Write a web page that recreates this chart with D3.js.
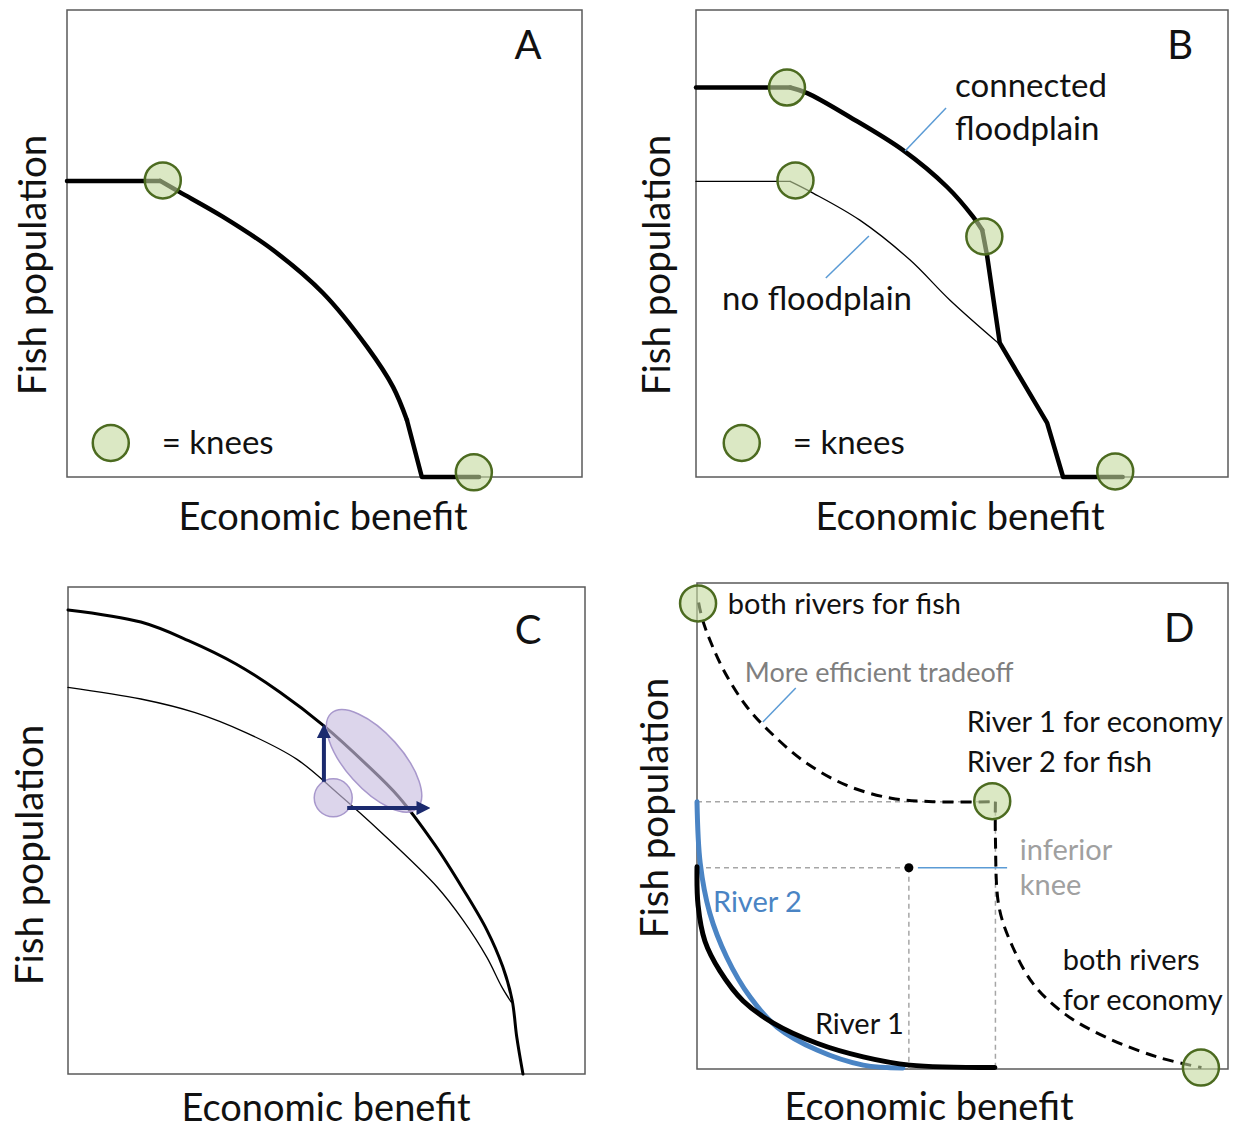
<!DOCTYPE html>
<meta charset="utf-8">
<script src="https://d3js.org/d3.v7.min.js"></script>
<style>
  body { margin: 0; background: #fff; }
  text { font-family: Lato, "Open Sans", sans-serif; fill: #111; }
</style>
<div id="chart"></div>
<script>
// all values on a 0-100 scale: x = economic benefit, y = fish population

// panel A
var frontierA = [[0,63.4],[18.1,63.4],[21.9,61],[30.3,55.7],[40,48.6],[49.7,39.4],[58.3,27.8],[63.3,19.3],[66,12.2],[68.9,0],[80,0]];
var kneesA = [[18.6,63.5],[79,1]];

// panel B
var connectedB = [[0,83.4],[17.7,83.4],[20.9,82.2],[28.9,77.1],[38.9,70],[47.2,62.1],[52.1,55.7],[53.8,52.9],[54.7,47.5],[57.1,28.7],[66,11.6],[69,0],[80.2,0]];
var noFloodB = [[0,63.3],[17.7,63.3],[22,60.8],[30.8,55],[40.2,46.5],[47.7,37.9],[57.1,28.4]];
var kneesB = [[17.1,83.4],[18.7,63.5],[54.2,51.5],[78.8,1.2]];

// panel C
var upperC = [[0,95.3],[14.1,92.8],[23.3,89],[32.5,84.2],[41,78.4],[49.5,71.5],[57.4,63.9],[63.9,57],[71,47],[76.4,38],[81,29.6],[84.1,22],[85.9,15.2],[86.8,7.6],[88,0]];
var lowerC = [[0,79.4],[14.1,77],[24.6,74.2],[34.4,70.1],[44.3,64.6],[52.1,57.7],[60.7,49.5],[71.4,38.4],[76.4,31.6],[81,24],[83.9,17.9],[85.7,14.8]];
var shiftStart = [51.3,56.7], shiftTarget = [59.2,64.3];
var arrowsC = [[[49.5,60],[49.5,71]], [[54,54.6],[69.3,54.6]]];

// panel D
var river1 = [[0,41.6],[0.2,33.7],[1.5,26.3],[4.3,20.2],[8.7,14],[14.3,9.5],[22.6,5.3],[31.3,2.5],[40.1,0.8],[56.1,0.3]];
var river2 = [[0,55],[0.6,42.4],[2.4,32.1],[5.6,23],[10,14.8],[15.1,8.6],[22.6,3.9],[31.3,0.8],[38.8,0.2]];
var combinedUpper = [[0.3,96],[1,92.6],[2.6,87.8],[5.2,81.7],[9.2,74.8],[13.7,69.4],[20.3,63.2],[28.1,58.4],[36.6,55.7],[44.4,55],[56.2,55]];
var combinedLower = [[56.2,55],[56.2,47.5],[56.9,33.2],[59.5,25],[63.4,17.4],[69.3,11.3],[77.1,6.5],[86.9,2.4],[95,0.3]];
var kneesD = [[0.2,95.8],[55.6,55.1],[94.9,0.3]];
var inferiorKnee = [39.9,41.4];
var cornerKnee = [56.2,55];

var W = 1233, H = 1129;
var svg = d3.select("#chart").append("svg").attr("width", W).attr("height", H);

var defs = svg.append("defs");
defs.append("marker")
    .attr("id", "arrow")
    .attr("viewBox", "0 0 10 10")
    .attr("refX", 7).attr("refY", 5)
    .attr("markerUnits", "userSpaceOnUse")
    .attr("markerWidth", 14).attr("markerHeight", 14)
    .attr("orient", "auto")
  .append("path")
    .attr("d", "M0,0 L10,5 L0,10 z")
    .attr("fill", "#1b2a6e");

function makePanel(box, letter, letterPos, xLab, yLab) {
    var x = d3.scaleLinear().domain([0, 100]).range([box.left, box.right]);
    var y = d3.scaleLinear().domain([0, 100]).range([box.bottom, box.top]);
    var g = svg.append("g");
    g.append("rect")
        .attr("x", box.left).attr("y", box.top)
        .attr("width", box.right - box.left).attr("height", box.bottom - box.top)
        .attr("fill", "none").attr("stroke", "#5a5a5a").attr("stroke-width", 1.5);
    g.append("text")
        .attr("x", x(letterPos[0])).attr("y", y(letterPos[1]))
        .attr("dy", "0.35em").attr("text-anchor", "middle")
        .style("font-size", "40px").text(letter);
    g.append("text")
        .attr("x", xLab[0]).attr("y", xLab[1])
        .attr("dy", "0.35em").attr("text-anchor", "middle")
        .style("font-size", "38px").text("Economic benefit");
    g.append("text")
        .attr("transform", "translate(" + yLab[0] + "," + yLab[1] + ") rotate(-90)")
        .attr("dy", "0.35em").attr("text-anchor", "middle")
        .style("font-size", "38.5px").text("Fish population");
    var layer = g.append("g");
    return { g: layer, x: x, y: y };
}

function drawLine(p, data, width, color, curve, dash) {
    var line = d3.line()
        .x(function (d) { return p.x(d[0]); })
        .y(function (d) { return p.y(d[1]); })
        .curve(curve || d3.curveLinear);
    p.g.append("path")
        .datum(data)
        .attr("d", line)
        .attr("fill", "none")
        .attr("stroke", color)
        .attr("stroke-width", width)
        .attr("stroke-linejoin", "round")
        .attr("stroke-linecap", dash ? "butt" : "round")
        .attr("stroke-dasharray", dash || null);
}

// straight pieces outside [i0, i1], smooth arc between them
function drawFrontier(p, data, i0, i1, width) {
    drawLine(p, data.slice(0, i0 + 1), width, "#000");
    drawLine(p, data.slice(i0, i1 + 1), width, "#000", d3.curveCatmullRom.alpha(0.5));
    if (i1 < data.length - 1) drawLine(p, data.slice(i1), width, "#000");
}

function drawKnees(p, data) {
    p.g.selectAll(null)
        .data(data)
        .enter()
        .append("circle")
        .attr("cx", function (d) { return p.x(d[0]); })
        .attr("cy", function (d) { return p.y(d[1]); })
        .attr("r", 18)
        .attr("fill", "#c3d99c")
        .attr("fill-opacity", 0.6)
        .attr("stroke", "#4c6b20")
        .attr("stroke-width", 2.5);
}

function label(p, pos, txt, size, color) {
    p.g.append("text")
        .attr("x", p.x(pos[0])).attr("y", p.y(pos[1]))
        .attr("dy", "0.35em")
        .style("font-size", size + "px")
        .style("fill", color || "#111")
        .text(txt);
}

function leader(p, a, b, color) {
    p.g.append("line")
        .attr("x1", p.x(a[0])).attr("y1", p.y(a[1]))
        .attr("x2", p.x(b[0])).attr("y2", p.y(b[1]))
        .attr("stroke", color || "#5b9bd5").attr("stroke-width", 1.5);
}

// ---------- A ----------
var pA = makePanel({ left: 67, top: 10, right: 582, bottom: 477 }, "A", [89.5, 92.5], [323, 517], [33, 265]);
drawFrontier(pA, frontierA, 1, 8, 4.5);
drawKnees(pA, kneesA);
drawKnees(pA, [[8.5, 7.3]]);
label(pA, [18.4, 7.3], "= knees", 33);

// ---------- B ----------
var pB = makePanel({ left: 696, top: 10, right: 1228, bottom: 477 }, "B", [91, 92.5], [960, 517], [657, 265]);
drawFrontier(pB, noFloodB, 1, noFloodB.length - 1, 1.3);
drawFrontier(pB, connectedB, 1, 7, 4.5);
drawKnees(pB, kneesB);
drawKnees(pB, [[8.6, 7.3]]);
label(pB, [18.2, 7.3], "= knees", 33);
label(pB, [48.7, 83.9], "connected", 33);
label(pB, [48.7, 74.7], "floodplain", 33);
leader(pB, [47, 79], [39.3, 69.8]);
label(pB, [4.9, 38.3], "no floodplain", 33);
leader(pB, [32.5, 51.6], [24.4, 42.6]);

// ---------- C ----------
var pC = makePanel({ left: 68, top: 587, right: 585, bottom: 1074 }, "C", [89, 91.2], [326, 1108], [30, 855]);
drawLine(pC, lowerC, 1.3, "#000", d3.curveCatmullRom.alpha(0.5));
drawLine(pC, upperC, 3, "#000", d3.curveCatmullRom.alpha(0.5));
pC.g.append("ellipse")
    .attr("transform", "translate(" + pC.x(shiftTarget[0]) + "," + pC.y(shiftTarget[1]) + ") rotate(48)")
    .attr("rx", 64).attr("ry", 28)
    .attr("fill", "#c9bfe0").attr("fill-opacity", 0.65)
    .attr("stroke", "#a898cc").attr("stroke-width", 1.5);
pC.g.append("circle")
    .attr("cx", pC.x(shiftStart[0])).attr("cy", pC.y(shiftStart[1]))
    .attr("r", 19)
    .attr("fill", "#c9bfe0").attr("fill-opacity", 0.65)
    .attr("stroke", "#a898cc").attr("stroke-width", 1.5);
pC.g.selectAll(null)
    .data(arrowsC)
    .enter()
    .append("line")
    .attr("x1", function (d) { return pC.x(d[0][0]); })
    .attr("y1", function (d) { return pC.y(d[0][1]); })
    .attr("x2", function (d) { return pC.x(d[1][0]); })
    .attr("y2", function (d) { return pC.y(d[1][1]); })
    .attr("stroke", "#1b2a6e").attr("stroke-width", 4)
    .attr("marker-end", "url(#arrow)");

// ---------- D ----------
var pD = makePanel({ left: 697, top: 583, right: 1228, bottom: 1069 }, "D", [90.8, 90.7], [929, 1107], [655, 808]);
var refLines = [
    [[0, cornerKnee[1]], cornerKnee],
    [[cornerKnee[0], cornerKnee[1]], [cornerKnee[0], 0]],
    [[0, inferiorKnee[1]], inferiorKnee],
    [inferiorKnee, [inferiorKnee[0], 0]]
];
refLines.forEach(function (seg) { drawLine(pD, seg, 1.5, "#a6a6a6", null, "5,4"); });
drawLine(pD, river2, 5, "#4a84c4", d3.curveCatmullRom);
drawLine(pD, river1, 5, "#000", d3.curveCatmullRom);
drawLine(pD, combinedUpper, 3, "#000", d3.curveCatmullRom, "11,7");
drawLine(pD, combinedLower, 3, "#000", d3.curveCatmullRom, "11,7");
pD.g.append("circle")
    .attr("cx", pD.x(inferiorKnee[0])).attr("cy", pD.y(inferiorKnee[1]))
    .attr("r", 4.5).attr("fill", "#000");
drawKnees(pD, kneesD);
label(pD, [5.8, 95.7], "both rivers for fish", 29);
label(pD, [9, 81.5], "More efficient tradeoff", 27, "#7f7f7f");
leader(pD, [18.6, 78.4], [12.4, 71.4]);
label(pD, [50.8, 71.4], "River 1 for economy", 29);
label(pD, [50.8, 63.2], "River 2 for fish", 29);
label(pD, [60.8, 45.1], "inferior", 29, "#a0a0a0");
label(pD, [60.8, 37.9], "knee", 29, "#a0a0a0");
leader(pD, [41.6, 41.4], [58.4, 41.4]);
label(pD, [3, 34.4], "River 2", 29, "#4a84c4");
label(pD, [68.9, 22.4], "both rivers", 29);
label(pD, [68.9, 14.2], "for economy", 29);
label(pD, [22.2, 9.3], "River 1", 29);
</script>
